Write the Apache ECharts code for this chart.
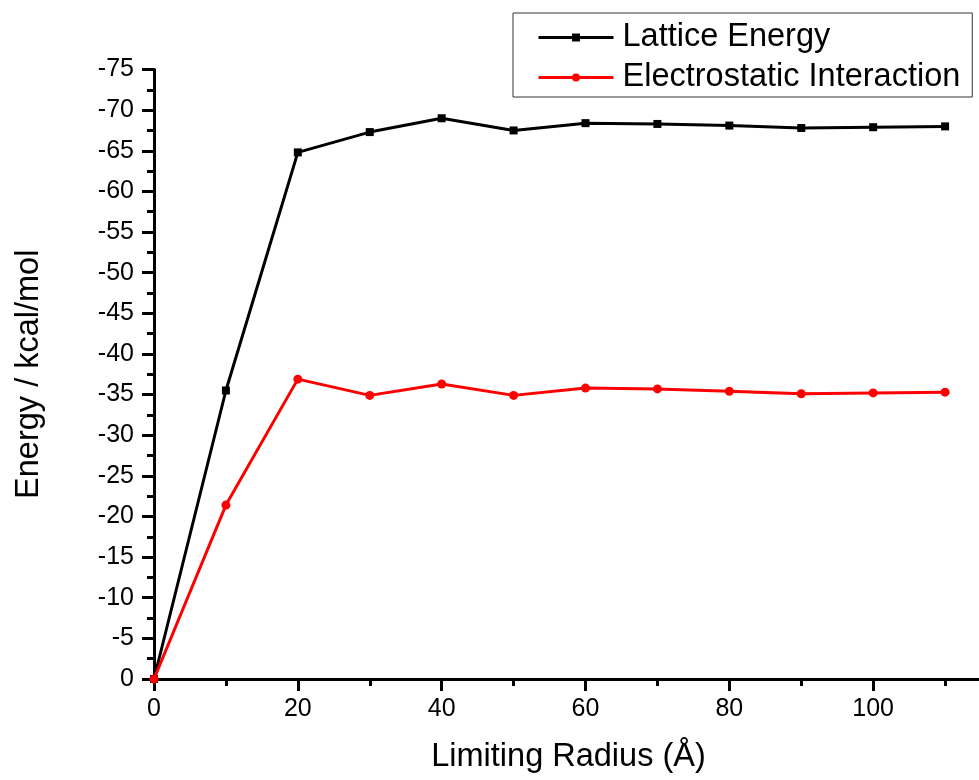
<!DOCTYPE html>
<html>
<head>
<meta charset="utf-8">
<script src="https://cdn.jsdelivr.net/npm/echarts@6/dist/echarts.min.js"></script>
<style>
  html, body { margin: 0; padding: 0; background: #fff; }
  #chart { width: 979px; height: 780px; }
</style>
</head>
<body>
<div id="chart"></div>
<script>
// limiting radius (Å)
var radius = [0, 10, 20, 30, 40, 50, 60, 70, 80, 90, 100, 110];
// energies in kcal/mol
var latticeEnergy = [0, -35.5, -64.8, -67.3, -69.0, -67.5, -68.4, -68.3, -68.1, -67.8, -67.9, -68.0];
var electrostatic = [0, -21.4, -36.9, -34.9, -36.3, -34.9, -35.8, -35.7, -35.4, -35.1, -35.2, -35.3];

function pairs(xs, ys) {
    var out = [];
    for (var i = 0; i < xs.length; i++) {
        out.push([xs[i], ys[i]]);
    }
    return out;
}

var font = 'Liberation Sans, Arial, sans-serif';
var chart = echarts.init(document.getElementById('chart'));

var option = {
    animation: false,
    backgroundColor: '#fff',
    grid: {
        left: 154,
        top: 69.5,
        bottom: 101,
        right: -38,
        containLabel: false,
        outerBoundsMode: 'none'
    },
    legend: {
        orient: 'vertical',
        left: 513,
        top: 13,
        padding: [8, 12, 3, 24],
        borderColor: '#333',
        borderWidth: 1,
        itemWidth: 75,
        itemHeight: 10,
        itemGap: 7,
        lineStyle: { width: 3 },
        textStyle: { fontFamily: font, fontSize: 32.5, color: '#000', padding: [0, 0, 0, 4] },
        data: ['Lattice Energy', 'Electrostatic Interaction']
    },
    xAxis: {
        type: 'value',
        min: 0,
        max: 120,
        interval: 20,
        name: 'Limiting Radius (Å)',
        nameLocation: 'middle',
        nameGap: 62,
        nameTextStyle: { fontFamily: font, fontSize: 32.5, color: '#000', padding: [0, 34, 0, 0] },
        splitLine: { show: false },
        axisLine: { onZero: false, lineStyle: { color: '#000', width: 3 } },
        axisTick: { length: 12, lineStyle: { color: '#000', width: 3 } },
        minorTick: { show: true, splitNumber: 2, length: 7, lineStyle: { color: '#000', width: 3 } },
        axisLabel: { margin: 18, fontFamily: font, fontSize: 25, color: '#000' }
    },
    yAxis: {
        type: 'value',
        min: -75,
        max: 0,
        interval: 5,
        inverse: true,
        name: 'Energy / kcal/mol',
        nameLocation: 'middle',
        nameGap: 108,
        nameRotate: 90,
        nameTextStyle: { fontFamily: font, fontSize: 32.5, color: '#000' },
        splitLine: { show: false },
        axisLine: { onZero: false, lineStyle: { color: '#000', width: 3 } },
        axisTick: { length: 12, lineStyle: { color: '#000', width: 3 } },
        minorTick: { show: true, splitNumber: 2, length: 7, lineStyle: { color: '#000', width: 3 } },
        axisLabel: { margin: 20, fontFamily: font, fontSize: 25, color: '#000' }
    },
    series: [
        {
            name: 'Lattice Energy',
            type: 'line',
            data: pairs(radius, latticeEnergy),
            symbol: 'rect',
            symbolSize: 8,
            color: '#000',
            lineStyle: { color: '#000', width: 3 },
            itemStyle: { color: '#000' }
        },
        {
            name: 'Electrostatic Interaction',
            type: 'line',
            data: pairs(radius, electrostatic),
            symbol: 'circle',
            symbolSize: 9,
            color: '#ff0000',
            lineStyle: { color: '#ff0000', width: 3 },
            itemStyle: { color: '#ff0000' }
        }
    ]
};

chart.setOption(option);
</script>
</body>
</html>
